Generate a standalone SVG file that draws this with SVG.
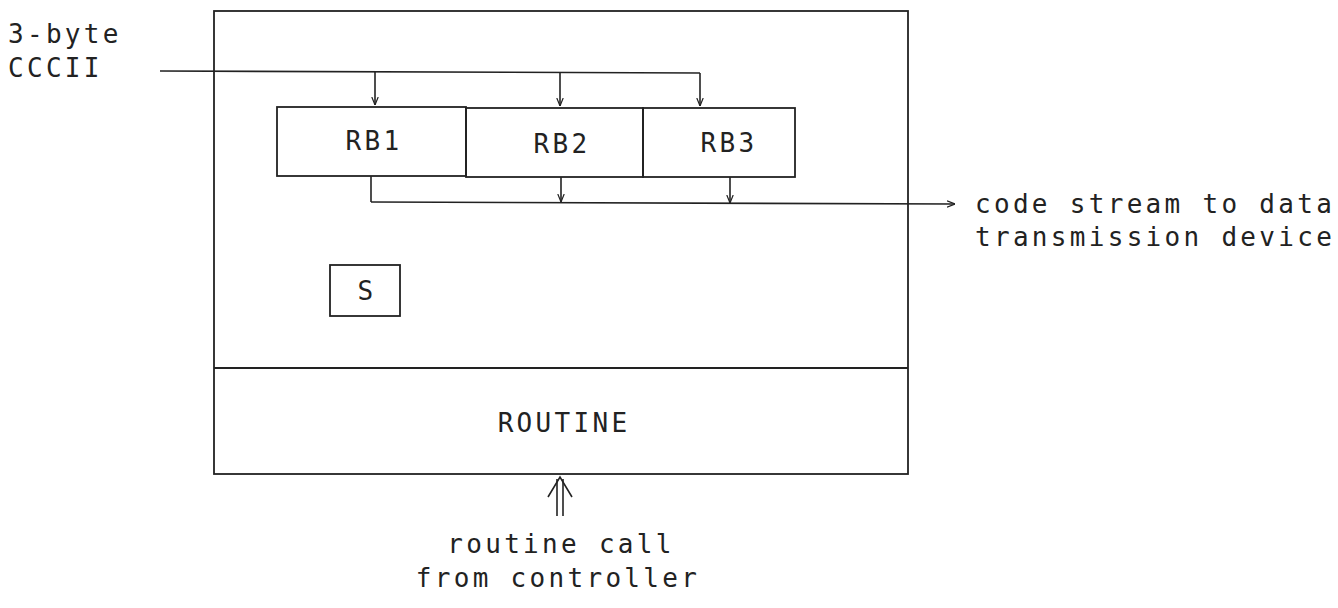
<svg xmlns="http://www.w3.org/2000/svg" width="1338" height="608" viewBox="0 0 1338 608">
<defs>
<style>
.ln{stroke:#222;stroke-width:1.6;fill:none}
.bx{stroke:#222;stroke-width:1.8;fill:none}
.t{font-family:"DejaVu Sans Mono","Liberation Mono",monospace;font-size:26px;fill:#222;letter-spacing:3.3px}
.c{text-anchor:middle}
</style>
<marker id="ah" viewBox="0 0 10 10" refX="10" refY="5" markerWidth="8" markerHeight="8" markerUnits="userSpaceOnUse" orient="auto">
<path d="M0,1 L10,5 L0,9" fill="none" stroke="#222" stroke-width="1.5"/>
</marker>
</defs>
<rect width="1338" height="608" fill="#fff"/>
<g id="outer">
<rect class="bx" x="214" y="11" width="694" height="463"/>
</g>
<g id="routine">
<line class="bx" x1="214" y1="368" x2="908" y2="368"/>
<text class="t c" x="564" y="432">ROUTINE</text>
</g>
<g id="rb1">
<rect class="bx" x="277" y="107" width="189" height="69"/>
<text class="t c" x="374" y="150">RB1</text>
</g>
<g id="rb2">
<rect class="bx" x="466" y="108" width="177" height="69"/>
<text class="t c" x="562" y="153">RB2</text>
</g>
<g id="rb3">
<rect class="bx" x="643" y="108" width="152" height="69"/>
<text class="t c" x="729" y="152">RB3</text>
</g>
<g id="s">
<rect class="bx" x="330" y="265" width="70" height="51"/>
<text class="t c" x="367" y="300">S</text>
</g>
<g id="labels">
<text class="t" x="8" y="43">3-byte</text>
<text class="t" x="8" y="77">CCCII</text>
<text class="t" x="975" y="213">code stream to data</text>
<text class="t" x="975" y="246">transmission device</text>
<text class="t c" x="561" y="553">routine call</text>
<text class="t c" x="558" y="587">from controller</text>
</g>
<g id="connectors">
<polyline class="ln" points="160,71 700,73"/>
<line class="ln" x1="375" y1="72" x2="375" y2="105" marker-end="url(#ah)"/>
<line class="ln" x1="560" y1="72" x2="560" y2="106" marker-end="url(#ah)"/>
<line class="ln" x1="700" y1="73" x2="700" y2="106" marker-end="url(#ah)"/>
<line class="ln" x1="371" y1="176" x2="371" y2="202"/>
<polyline class="ln" points="371,202 955,204" marker-end="url(#ah)"/>
<line class="ln" x1="561" y1="177" x2="561" y2="202" marker-end="url(#ah)"/>
<line class="ln" x1="730" y1="177" x2="730" y2="203" marker-end="url(#ah)"/>
<line class="ln" x1="557" y1="479" x2="557" y2="516"/>
<line class="ln" x1="563" y1="479" x2="563" y2="516"/>
<polyline class="ln" points="548,497 560,477 572,497"/>
</g>
</svg>
